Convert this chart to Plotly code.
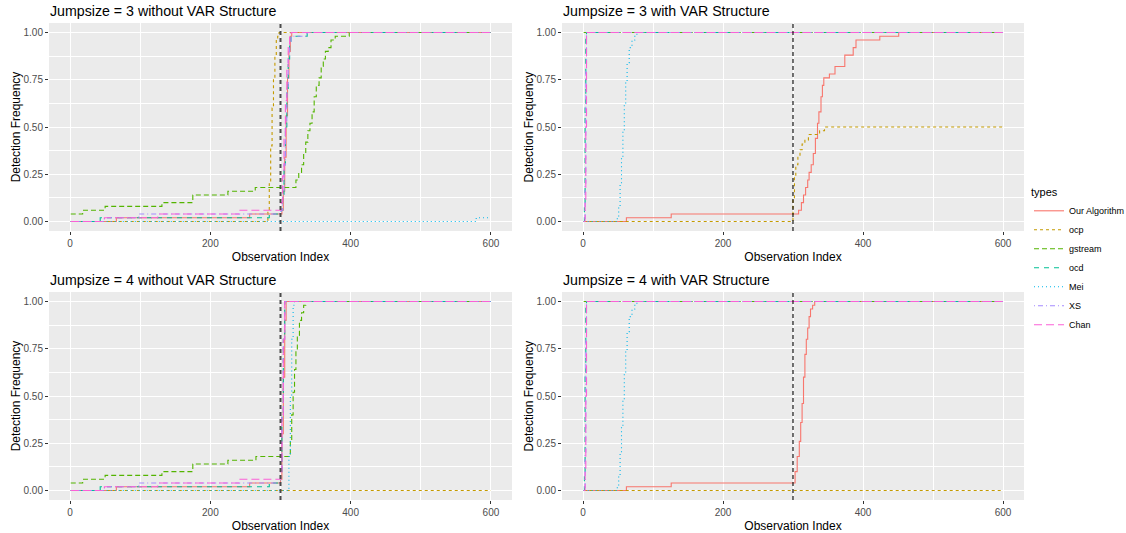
import plotly.graph_objects as go

X_END = 600
METHODS = ["Our Algorithm", "ocp", "gstream", "ocd", "Mei", "XS", "Chan"]
COLORS = ["#F8766D", "#C49A00", "#53B400", "#00C094", "#00B6EB", "#A58AFF", "#FB61D7"]
DASHES = ["solid", "3px,3px", "5px,3px", "5px,5px", "1px,3px", "1px,3px,5px,3px", "8px,4px"]
CHANGE_POINT = 300

PANEL_TITLES = ["Jumpsize = 3 without VAR Structure", "Jumpsize = 3 with VAR Structure",
                "Jumpsize = 4 without VAR Structure", "Jumpsize = 4 with VAR Structure"]

# (observation index where the value changes, detection frequency from then on)
j3_novar = {
    "Our Algorithm": ([1, 66, 256, 302, 304, 306, 308, 310, 312, 314, 316],
                      [0, 0.02, 0.04, 0.06, 0.16, 0.34, 0.56, 0.76, 0.9, 0.98, 1.0]),
    "ocp": ([1, 282, 284, 286, 288, 290, 292, 294, 296, 298],
            [0, 0.06, 0.2, 0.4, 0.6, 0.76, 0.88, 0.96, 0.98, 1.0]),
    "gstream": ([1, 18, 50, 131, 175, 225, 264, 322, 326, 330, 333, 336, 339, 342, 345, 348, 351, 355, 358, 361, 364, 368, 372, 378, 398],
                [0.04, 0.06, 0.08, 0.10, 0.14, 0.16, 0.18, 0.22, 0.26, 0.30, 0.36, 0.42, 0.48, 0.52, 0.58, 0.66, 0.72, 0.76, 0.82, 0.86, 0.90, 0.92, 0.96, 0.98, 1.0]),
    "ocd": ([1, 43, 284, 301, 303, 305, 307, 309, 311, 313, 315, 338],
            [0, 0.02, 0.04, 0.06, 0.14, 0.3, 0.5, 0.7, 0.86, 0.94, 0.98, 1.0]),
    "Mei": ([1, 579], [0, 0.02]),
    "XS": ([1, 49, 98, 301, 303, 305, 307, 309, 311, 313, 315, 338],
           [0, 0.02, 0.04, 0.06, 0.14, 0.3, 0.5, 0.7, 0.86, 0.94, 0.98, 1.0]),
    "Chan": ([1, 49, 125, 241, 301, 303, 305, 307, 309, 311, 313, 315],
             [0, 0.02, 0.04, 0.06, 0.1, 0.24, 0.44, 0.64, 0.8, 0.92, 0.98, 1.0]),
}

j3_var = {
    "Our Algorithm": ([1, 62, 126, 308, 312, 315, 318, 321, 323, 326, 329, 332, 335, 337, 340, 342, 344, 352, 360, 374, 386, 390, 424, 451],
                      [0, 0.02, 0.04, 0.06, 0.1, 0.14, 0.18, 0.22, 0.26, 0.3, 0.36, 0.44, 0.52, 0.58, 0.66, 0.72, 0.76, 0.78, 0.82, 0.88, 0.92, 0.96, 0.98, 1.0]),
    "ocp": ([1, 300, 302, 304, 307, 310, 313, 317, 322, 338, 345],
            [0, 0.12, 0.24, 0.3, 0.34, 0.38, 0.41, 0.43, 0.46, 0.48, 0.5]),
    "gstream": ([1], [1.0]),
    "ocd": ([1, 2, 3, 4, 5], [0, 0.1, 0.6, 0.98, 1.0]),
    "Mei": ([1, 49, 51, 53, 55, 57, 59, 61, 63, 66, 70, 74, 77],
            [0, 0.02, 0.08, 0.2, 0.34, 0.48, 0.62, 0.74, 0.84, 0.92, 0.96, 0.98, 1.0]),
    "XS": ([1, 3, 4, 5], [0, 0.2, 0.8, 1.0]),
    "Chan": ([1, 3, 4, 5, 6], [0, 0.1, 0.5, 0.98, 1.0]),
}

j4_novar = {
    "Our Algorithm": ([1, 66, 256, 300, 302, 304, 306, 308],
                      [0, 0.02, 0.04, 0.06, 0.3, 0.6, 0.9, 1.0]),
    "ocp": ([1], [0]),
    "gstream": ([1, 18, 50, 131, 175, 225, 265, 314, 316, 318, 320, 322, 324, 327, 330, 333, 336],
                [0.04, 0.06, 0.08, 0.1, 0.14, 0.16, 0.18, 0.26, 0.4, 0.52, 0.64, 0.74, 0.82, 0.9, 0.94, 0.98, 1.0]),
    "ocd": ([1, 43, 284, 300, 302, 304, 306], [0, 0.02, 0.04, 0.1, 0.4, 0.8, 1.0]),
    "Mei": ([1, 312, 314, 316, 318, 320], [0, 0.18, 0.5, 0.8, 0.98, 1.0]),
    "XS": ([1, 49, 98, 300, 302, 304, 306], [0, 0.02, 0.04, 0.1, 0.4, 0.8, 1.0]),
    "Chan": ([1, 49, 125, 241, 300, 302, 304, 306], [0, 0.02, 0.04, 0.06, 0.1, 0.4, 0.8, 1.0]),
}

j4_var = {
    "Our Algorithm": ([1, 62, 126, 303, 306, 309, 311, 313, 315, 317, 319, 321, 323, 325, 328, 331],
                      [0, 0.02, 0.04, 0.1, 0.18, 0.26, 0.36, 0.46, 0.6, 0.72, 0.8, 0.86, 0.92, 0.96, 0.98, 1.0]),
    "ocp": ([1], [0]),
    "gstream": ([1], [1.0]),
    "ocd": ([1, 2, 3, 4, 5], [0, 0.1, 0.6, 0.98, 1.0]),
    "Mei": ([1, 49, 51, 53, 55, 57, 59, 61, 63, 66, 70, 74, 77],
            [0, 0.02, 0.08, 0.2, 0.34, 0.48, 0.62, 0.74, 0.84, 0.92, 0.96, 0.98, 1.0]),
    "XS": ([1, 3, 4, 5], [0, 0.2, 0.8, 1.0]),
    "Chan": ([1, 3, 4, 5, 6], [0, 0.1, 0.5, 0.98, 1.0]),
}

PANELS = [j3_novar, j3_var, j4_novar, j4_var]

W, H = 1126, 533
XDOM = [[49 / W, 512 / W], [562 / W, 1024 / W]]
YDOM = [[1 - 231 / H, 1 - 23 / H], [1 - 500 / H, 1 - 292 / H]]
FONT = "Liberation Sans, Arial, sans-serif"

fig = go.Figure()

for p, data in enumerate(PANELS):
    ax = "" if p == 0 else str(p + 1)
    for m, name in enumerate(METHODS):
        xs, ys = data[name]
        xs = list(xs) + [X_END]
        ys = list(ys) + [ys[-1]]
        fig.add_trace(go.Scatter(
            x=xs, y=ys, mode="lines", line_shape="hv", name=name,
            legendgroup=name, showlegend=(p == 0),
            line=dict(color=COLORS[m], width=1.1, dash=DASHES[m]),
            xaxis="x" + ax, yaxis="y" + ax,
        ))

layout = dict(
    width=W, height=H, autosize=False, margin=dict(l=0, r=0, t=0, b=0, autoexpand=False),
    paper_bgcolor="white", plot_bgcolor="#EBEBEB",
    font=dict(family=FONT, color="black"),
    showlegend=True,
    legend=dict(x=1029 / W, y=1 - 182 / H, xanchor="left", yanchor="top",
                title=dict(text="types", font=dict(size=11, color="black")),
                font=dict(size=9, color="black"), bgcolor="rgba(255,255,255,0)",
                tracegroupgap=0, itemwidth=30),
    annotations=[], shapes=[],
)

for p in range(4):
    ax = "" if p == 0 else str(p + 1)
    col, row = p % 2, p // 2
    layout["xaxis" + ax] = dict(
        domain=XDOM[col], anchor="y" + ax, range=[-30, 630],
        tickvals=[0, 200, 400, 600], ticktext=["0", "200", "400", "600"],
        ticks="outside", ticklen=3, tickcolor="#333333", tickwidth=1,
        tickfont=dict(size=10, color="#4D4D4D"),
        showgrid=True, gridcolor="white", gridwidth=1.1,
        minor=dict(tickvals=[100, 300, 500], showgrid=True, gridcolor="white", gridwidth=0.5, ticks=""),
        zeroline=False, showline=False, automargin=False,
        title=dict(text="Observation Index", font=dict(size=12, color="black"), standoff=4),
    )
    layout["yaxis" + ax] = dict(
        domain=YDOM[row], anchor="x" + ax, range=[-0.05, 1.05],
        tickvals=[0, 0.25, 0.5, 0.75, 1.0], ticktext=["0.00", "0.25", "0.50", "0.75", "1.00"],
        ticks="outside", ticklen=3, tickcolor="#333333", tickwidth=1,
        tickfont=dict(size=10, color="#4D4D4D"),
        showgrid=True, gridcolor="white", gridwidth=1.1,
        minor=dict(tickvals=[0.125, 0.375, 0.625, 0.875], showgrid=True, gridcolor="white", gridwidth=0.5, ticks=""),
        zeroline=False, showline=False, automargin=False,
        title=dict(text="Detection Frequency", font=dict(size=12, color="black"), standoff=0),
    )
    layout["annotations"].append(dict(
        text=PANEL_TITLES[p], xref="paper", yref="paper",
        x=XDOM[col][0] - 1 / W, y=YDOM[row][1] + 12 / H, xanchor="left", yanchor="middle",
        showarrow=False, font=dict(size=14.2, color="black"),
    ))
    left = (col == 0)
    layout["shapes"].append(dict(
        type="line", xref="x" + ax, yref=("y" + ax) + " domain",
        x0=CHANGE_POINT, x1=CHANGE_POINT, y0=0, y1=1,
        line=dict(color="#4A4A4A" if left else "black", width=2 if left else 1.1,
                  dash="4px,3px"),
        layer="above",
    ))

fig.update_layout(**layout)

POST = ("document.body.style.margin='0';document.body.style.padding='0';"
        "document.body.style.overflow='hidden';"
        "var gd=document.getElementById('{plot_id}');"
        "Plotly.relayout(gd,{width:%d,height:%d});" % (W, H))

fig.write_html("out.html", config={"responsive": False, "displayModeBar": False}, post_script=POST)
